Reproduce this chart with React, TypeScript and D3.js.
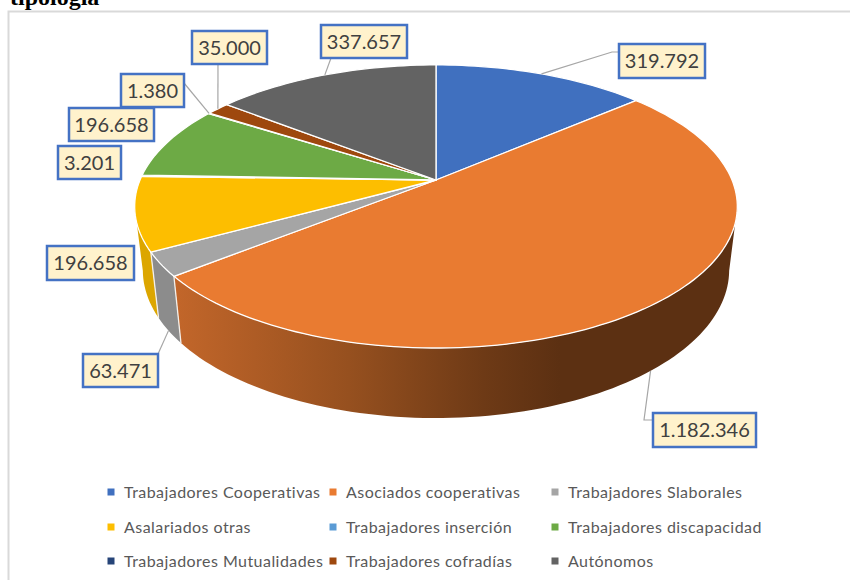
import React from "react";
import * as d3 from "d3";

const categories = [
  "Trabajadores Cooperativas",
  "Asociados cooperativas",
  "Trabajadores Slaborales",
  "Asalariados otras",
  "Trabajadores inserción",
  "Trabajadores discapacidad",
  "Trabajadores Mutualidades",
  "Trabajadores cofradías",
  "Autónomos",
];
const values = [319792, 1182346, 63471, 196658, 3201, 196658, 1380, 35000, 337657];
const valueLabels = ["319.792", "1.182.346", "63.471", "196.658", "3.201", "196.658", "1.380", "35.000", "337.657"];
const colors = ["#4070BF", "#E97B31", "#A5A5A5", "#FDBE00", "#5B9BD5", "#6DAA45", "#264478", "#9E480E", "#636363"];
const wallColors = ["#2F5597", "url(#orangeWall)", "#8C8C8C", "#DCA600", "#4A80B0", "#5A8C38", "#1D3560", "#7E390B", "#4F4F4F"];

// label box: x, y, w, h
const boxes = [
  [619, 44, 86, 34],
  [653, 413, 103, 34],
  [83, 354, 75, 33],
  [47, 246, 87, 34],
  [58, 146, 63, 33],
  [69, 108, 85, 33],
  [121, 74, 63, 33],
  [192, 31, 75, 33],
  [321, 25, 86, 33],
];
// leader start points (null = no leader); optional elbow
const leaders: (number[][] | null)[] = [
  [[619, 52], [612, 52]],
  [[653, 420], [644, 420]],
  [[158, 354]],
  null,
  null,
  null,
  [[184, 83]],
  [[218, 64]],
  [[331, 58]],
];
const leaderOnWall = [false, true, true, false, false, false, false, false, false];

const legendCols = [111, 333, 555];
const legendRows = [492, 527, 561];

const CX = 436;
const P = 0.187;
const topDisk = { R: 296, y0: 180, k: 136.6 };
const botDisk = { R: 288, y0: 242.4, k: 142.8 };

function proj(a: number, d: { R: number; y0: number; k: number }): [number, number] {
  const u = Math.sin(a);
  const v = Math.cos(a);
  const s = 1 / (1 + P * v);
  return [CX + d.R * u * s, d.y0 - d.k * v * s];
}

function arcPts(a0: number, a1: number, d: typeof topDisk) {
  const n = Math.max(2, Math.ceil((Math.abs(a1 - a0) / Math.PI) * 120));
  return d3.range(n + 1).map((i) => proj(a0 + ((a1 - a0) * i) / n, d));
}

const line = d3.line();
const slices = d3.pie<number>().sort(null).startAngle(0).endAngle(2 * Math.PI)(values);
// the wall is visible between the two silhouette tangents of the projected disk
const WALL_MIN = (101 * Math.PI) / 180;
const WALL_MAX = (259 * Math.PI) / 180;

export default function App() {
  const walls = slices
    .map((s, i) => ({ a0: Math.max(s.startAngle, WALL_MIN), a1: Math.min(s.endAngle, WALL_MAX), i }))
    .filter((w) => w.a1 > w.a0)
    .reverse();
  const orangeEnd = slices[1].endAngle;
  const grayEnd = slices[2].endAngle;
  return (
    <svg width={850} height={580} style={{ position: "absolute", left: 0, top: 0, background: "#fff" }}>
      <defs>
        <linearGradient id="orangeWall" gradientUnits="userSpaceOnUse" x1={176} x2={560} y1={0} y2={0}>
          <stop offset="0" stopColor="#C2662A" />
          <stop offset="0.45" stopColor="#96501F" />
          <stop offset="0.8" stopColor="#6E3A16" />
          <stop offset="1" stopColor="#5C3012" />
        </linearGradient>
      </defs>
      <text x={10} y={5} fontFamily="'Liberation Serif'" fontWeight="bold" fontSize={24} fill="#000">
        tipología
      </text>
      <path d="M850,11.5H8.5V580" fill="none" stroke="#D9D9D9" strokeWidth={2} />

      {walls.map((w) => (
        <path
          key={w.i}
          d={line([...arcPts(w.a0, w.a1, topDisk), ...arcPts(w.a1, w.a0, botDisk)])! + "Z"}
          fill={wallColors[w.i]}
        />
      ))}
      {[orangeEnd, grayEnd].map((a, i) => (
        <path
          key={i}
          d={line([proj(a, topDisk), proj(a, botDisk)])!}
          stroke="#F4F0EA"
          strokeWidth={1.3}
          fill="none"
        />
      ))}
      {slices.map((s, i) => (
        <path
          key={i}
          d={line([[CX, topDisk.y0], ...arcPts(s.startAngle, s.endAngle, topDisk)])! + "Z"}
          fill={colors[i]}
          stroke="#fff"
          strokeWidth={1.3}
          strokeLinejoin="round"
        />
      ))}

      {slices.map((s, i) => {
        const pts = leaders[i];
        if (!pts) return null;
        const mid = (s.startAngle + s.endAngle) / 2;
        const end = proj(mid, leaderOnWall[i] ? botDisk : topDisk);
        return (
          <path key={i} d={line([...(pts as [number, number][]), end])!} fill="none" stroke="#A6A6A6" strokeWidth={1.2} />
        );
      })}

      {boxes.map((b, i) => (
        <g key={i}>
          <rect x={b[0]} y={b[1]} width={b[2]} height={b[3]} fill="#FFF2CC" stroke="#4472C4" strokeWidth={2.5} />
          <text
            x={b[0] + b[2] / 2}
            y={b[1] + b[3] / 2 + 7}
            textAnchor="middle"
            fontFamily="Lato"
            fontSize={20}
            fill="#404040"
          >
            {valueLabels[i]}
          </text>
        </g>
      ))}

      {categories.map((c, i) => {
        const x = legendCols[i % 3];
        const y = legendRows[Math.floor(i / 3)];
        return (
          <g key={c}>
            <rect x={x - 3.5} y={y - 3.5} width={7} height={7} fill={colors[i]} />
            <text x={x + 13} y={y + 5.5} fontFamily="Lato" fontSize={16} letterSpacing={0.45} fill="#595959">
              {c}
            </text>
          </g>
        );
      })}
    </svg>
  );
}
